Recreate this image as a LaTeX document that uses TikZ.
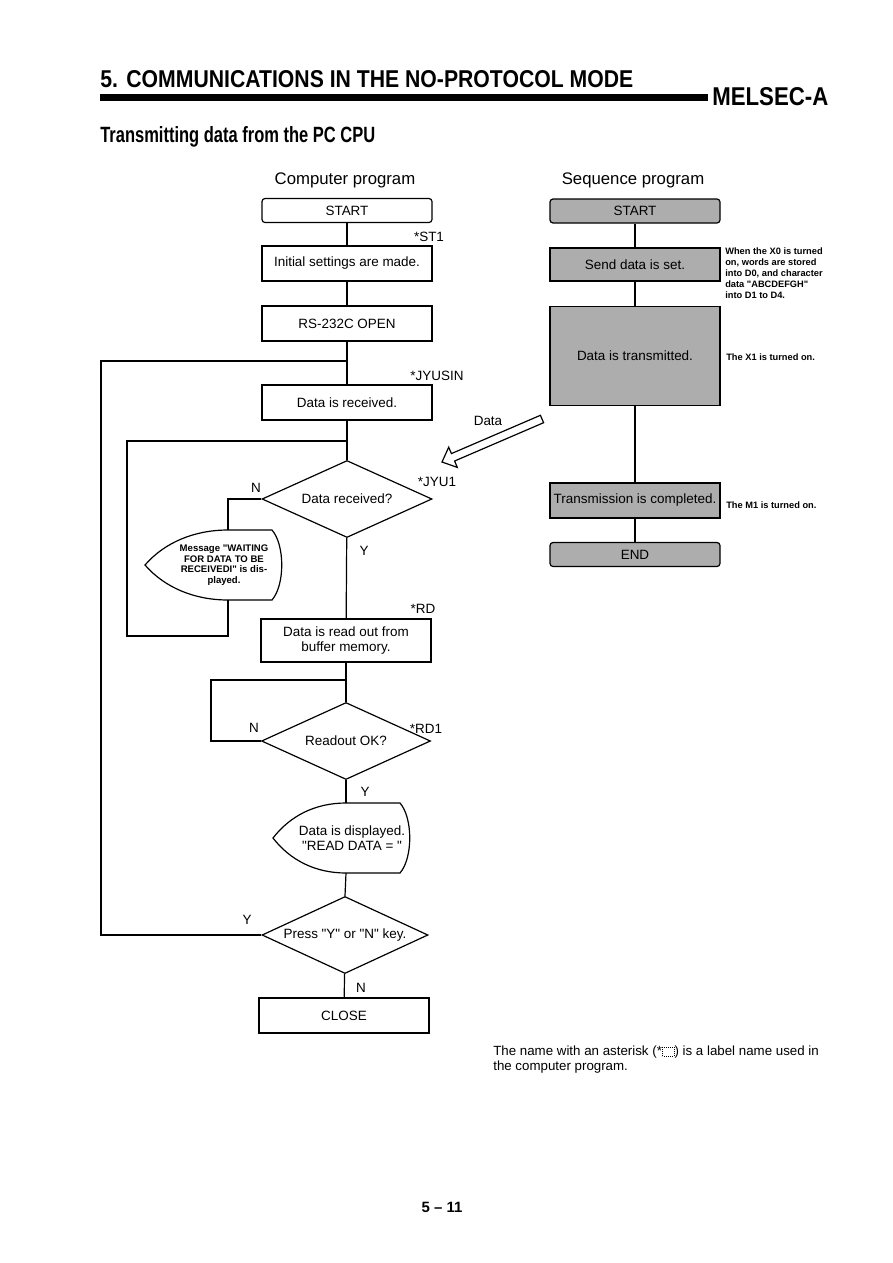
\documentclass[tikz,border=0pt]{standalone}
\usepackage{fontspec}
\setmainfont{Liberation Sans}
\usetikzlibrary{positioning, shapes.geometric}

\newlength{\pxu}
\setlength{\pxu}{0.0235cm}
\newcommand{\qq}{\XeTeXglyph\XeTeXcharglyph"22\relax}

\tikzset{
    flow/.style={line width=0.8pt},
    prog/.style={draw, line width=0.8pt, minimum width=170\pxu, minimum height=35\pxu,
        inner sep=1pt, align=center, font=\fontsize{9}{10.5}\selectfont},
    startbox/.style={prog, rounded corners=3\pxu, minimum height=24\pxu},
    seqbox/.style={prog, fill=black!32},
    seqend/.style={startbox, fill=black!32},
    decision/.style={draw, diamond, line width=0.8pt, inner sep=0pt,
        minimum width=170\pxu, minimum height=77\pxu},
    tag/.style={font=\fontsize{9}{10.5}\selectfont, inner sep=0pt},
    msgtext/.style={align=center, inner sep=0pt},
    note/.style={anchor=north west, align=left, inner sep=0pt,
        font=\bfseries\fontsize{6.2}{7.4}\selectfont}
}

\begin{document}
\begin{tikzpicture}[x=0.0235cm, y=-0.0235cm]

    \useasboundingbox (0,0) rectangle (893,1263);

    % --- heading ---
    \node[anchor=base west, inner sep=0pt] (title) at (100,87)
        {\resizebox{533\pxu}{17\pxu}{\bfseries 5.\hspace{0.4em}COMMUNICATIONS IN THE NO-PROTOCOL MODE}};
    \fill (100,94) rectangle (708,101);
    \node[anchor=base west, inner sep=0pt] (brand) at (712,105)
        {\resizebox{116\pxu}{18\pxu}{\bfseries MELSEC-A}};
    \node[anchor=base west, inner sep=0pt] (subtitle) at (100,142)
        {\resizebox{275\pxu}{16\pxu}{\bfseries Transmitting data from the PC CPU}};

    \node[font=\fontsize{11.2}{13}\selectfont] (comptitle) at (345,180) {Computer program};
    \node[font=\fontsize{11.2}{13}\selectfont] (seqtitle) at (633,180) {Sequence program};

    % --- computer program ---
    \node[startbox] (cstart) at (347,210.5) {START};
    \node[prog] (cinit) at (347,263.5) {Initial settings are made.};
    \node[prog] (copen) at (347,323.5) {RS-232C OPEN};
    \node[prog] (crecv) at (347,402.5) {Data is received.};
    \node[decision, label={center:{\fontsize{9}{10.5}\selectfont Data received?}}] (drecv) at (347,499) {};
    \node[prog, minimum height=43\pxu] (cread) at (346,640.5) {Data is read out from\\buffer memory.};
    \node[decision, minimum width=169\pxu, label={center:{\fontsize{9}{10.5}\selectfont Readout OK?}}] (dread) at (346,741) {};
    \node[decision, minimum width=166\pxu, label={center:{\fontsize{9}{10.5}\selectfont Press \qq Y\qq{} or \qq N\qq{} key.}}] (dkey) at (345,935) {};
    \node[prog] (cclose) at (344,1015.5) {CLOSE};

    % display shapes
    \draw[flow] (228,530) -- (272,530) .. controls (285,545) and (285,585) .. (272,600)
        -- (228,600) .. controls (195,600) and (165,588) .. (145,565)
        .. controls (165,542) and (195,530) .. cycle;
    \node[msgtext, font=\bfseries\fontsize{6.4}{7.1}\selectfont] (msgwait) at (224,565)
        {Message \qq WAITING\\FOR DATA TO BE\\RECEIVEDI\qq{} is dis-\\played.};
    \coordinate (msgwaittop) at (228,530);
    \coordinate (msgwaitbot) at (228,600);

    \draw[flow] (346,803) -- (400,803) .. controls (413,818) and (413,858) .. (400,873)
        -- (346,873) .. controls (315,873) and (290,860) .. (273,838)
        .. controls (290,816) and (315,803) .. cycle;
    \node[msgtext, font=\fontsize{9}{10.5}\selectfont] (msgshow) at (352,838)
        {Data is displayed.\\\qq READ DATA = \qq};
    \coordinate (msgshowtop) at (346,803);
    \coordinate (msgshowbot) at (346,873);

    % junctions of the loops
    \coordinate (joinA) at (347,361);
    \coordinate (joinB) at (347,441);
    \coordinate (joinC) at (346,680);
    \coordinate (loopA) at (101,361);
    \coordinate (loopB) at (127,636);
    \coordinate (loopC) at (211,680);

    % connectors
    \draw[flow] (cstart) -- (cinit);
    \draw[flow] (cinit) -- (copen);
    \draw[flow] (copen) -- (crecv);
    \draw[flow] (crecv) -- (drecv);
    \draw[flow] (drecv) -- (cread);
    \draw[flow] (drecv.west) -| (msgwaittop);
    \draw[flow] (msgwaitbot) |- (loopB) |- (joinB);
    \draw[flow] (cread) -- (dread);
    \draw[flow] (dread.west) -| (loopC) -- (joinC);
    \draw[flow] (dread.south) -- (msgshowtop);
    \draw[flow] (msgshowbot) -- (dkey.north);
    \draw[flow] (dkey.west) -| (loopA) -- (joinA);
    \draw[flow] (dkey) -- (cclose);

    % labels
    \node[tag] (tst) at (429,237) {*ST1};
    \node[tag] (tjyusin) at (437,376) {*JYUSIN};
    \node[tag] (tjyu) at (437,482) {*JYU1};
    \node[tag] (trd) at (423,609) {*RD};
    \node[tag] (trdone) at (426,729) {*RD1};
    \node[tag] (nrecv) at (256,488) {N};
    \node[tag] (yrecv) at (364,551) {Y};
    \node[tag] (nread) at (254,728) {N};
    \node[tag] (yread) at (365,792) {Y};
    \node[tag] (ykey) at (247,920) {Y};
    \node[tag] (nkey) at (361,988) {N};

    % --- sequence program ---
    \node[seqend] (sstart) at (635,211) {START};
    \node[seqbox, minimum height=33\pxu] (sset) at (635,264.5) {Send data is set.};
    \node[seqbox, minimum height=99\pxu] (sxmit) at (635,356) {Data is transmitted.};
    \node[seqbox] (sdone) at (635,500.5) {Transmission is completed.};
    \node[seqend] (send) at (635,554.5) {END};
    \draw[flow] (sstart) -- (sset) -- (sxmit) -- (sdone) -- (send);

    \node[note] (nset) at (725,247) {When the X0 is turned\\on, words are stored\\into D0, and character\\data \qq ABCDEFGH\qq\\into D1 to D4.};
    \node[note, anchor=west] (nxmit) at (726,357) {The X1 is turned on.};
    \node[note, anchor=west] (ndone) at (726,505) {The M1 is turned on.};

    % data transfer arrow (hollow)
    \draw[flow, line join=miter] (442,462) -- (457.3,467.4) -- (454.6,461.0) -- (543.6,422.7)
        -- (540.4,415.3) -- (451.4,453.6) -- (448.7,447.2) -- cycle;
    \node[tag] (xferlbl) at (488,421) {Data};

    % --- footnote ---
    \node[anchor=north west, align=left, inner sep=0pt, font=\fontsize{8.9}{10}\selectfont] (foot) at (493,1046)
        {The name with an asterisk (*\tikz[baseline=0pt]\draw[densely dotted, line width=0.4pt] (0pt,0pt) rectangle (8pt,6pt);) is a label name used in\\the computer program.};

    \node[font=\bfseries\fontsize{10}{12}\selectfont] (pageno) at (442,1207) {5 -- 11};

\end{tikzpicture}
\end{document}
